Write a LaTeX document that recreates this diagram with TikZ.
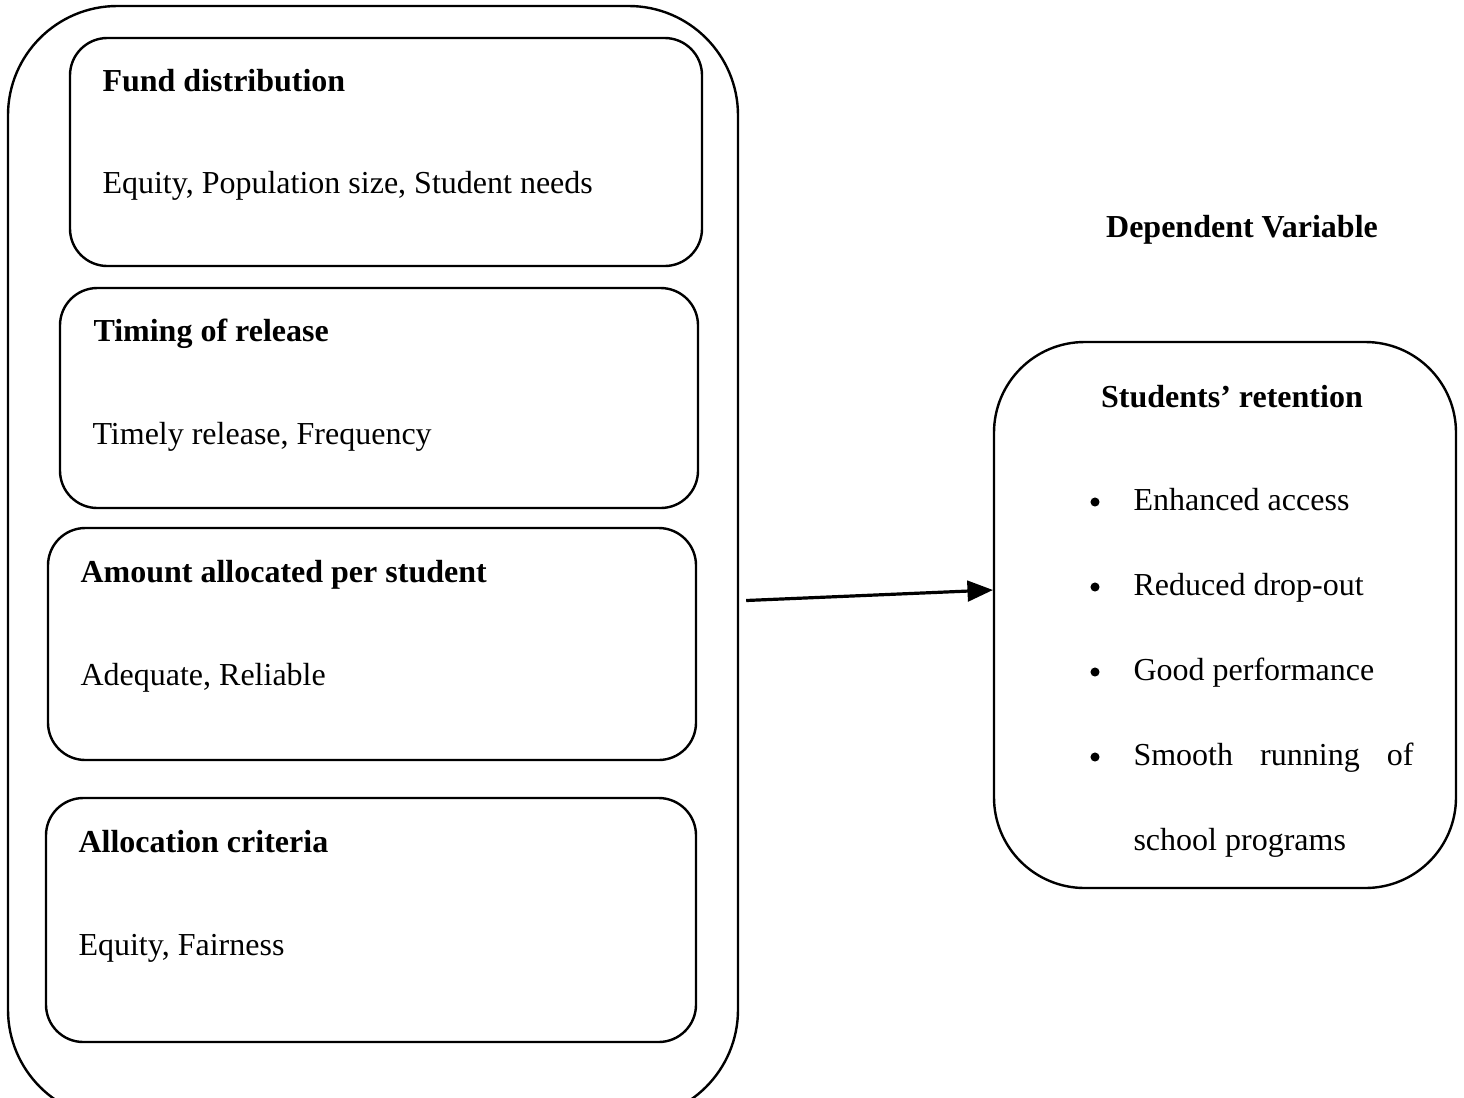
\documentclass[tikz,border=0pt]{standalone}
\usepackage{fontspec}
\setmainfont{Liberation Serif}
\usetikzlibrary{calc}
\usetikzlibrary{arrows}
\usetikzlibrary{fit}

\tikzset{
  cadre/.style={draw, line width=0.9pt, rounded corners=14pt, inner sep=0pt},
  titre/.style={font=\fontsize{12}{14}\selectfont\bfseries, inner sep=0pt},
  texte/.style={font=\fontsize{12}{14}\selectfont, anchor=base west, inner sep=0pt},
  puce/.style={circle, fill, inner sep=0pt, minimum size=3.4pt},
}

\begin{document}
\begin{tikzpicture}[x=0.375pt, y=-0.375pt]
                            % Cadre de l'image
                            \useasboundingbox (0,0) rectangle (1464,1097);
                            \clip (0,0) rectangle (1464,1097);

                            % Grand cadre (variables independantes)
                            \node[cadre, rounded corners=41pt, fit={(8,6) (738,1119)}] (gauche) {};

                            % Les quatre cadres interieurs
                            \node[cadre, fit={(70,38) (702,266)}] (fonds) {};
                            \node[cadre, fit={(60,288) (698,508)}] (calendrier) {};
                            \node[cadre, fit={(48,528) (696,760)}] (montant) {};
                            \node[cadre, fit={(46,798) (696,1042)}] (criteres) {};

                            % Cadre de droite (variable dependante)
                            \node[cadre, rounded corners=34pt, fit={(994,342) (1456,888)}] (retention) {};

                            % Textes des cadres interieurs
                            \node[titre, anchor=base west] (fondsT) at (102,91) {Fund distribution};
                            \node[texte] (fondsD) at (102,193) {Equity, Population size, Student needs};
                            \node[titre, anchor=base west] (calendrierT) at (93,341) {Timing of release};
                            \node[texte] (calendrierD) at (92,444) {Timely release, Frequency};
                            \node[titre, anchor=base west] (montantT) at (80,582) {Amount allocated per student};
                            \node[texte] (montantD) at (80,685) {Adequate, Reliable};
                            \node[titre, anchor=base west] (criteresT) at (78,852) {Allocation criteria};
                            \node[texte] (criteresD) at (78,955) {Equity, Fairness};

                            % Textes de droite
                            \node[titre, anchor=base] (dependante) at (1242,237) {Dependent Variable};
                            \node[titre, anchor=base] (retentionT) at (1232,407) {Students’ retention};

                            % Liste a puces
                            \node[puce] (p1) at (1095,502) {};
                            \node[texte] (acces) at (1133,510) {Enhanced access};
                            \node[puce] (p2) at (1095,587) {};
                            \node[texte] (abandon) at (1133,595) {Reduced drop-out};
                            \node[puce] (p3) at (1095,672) {};
                            \node[texte] (performance) at (1133,680) {Good performance};
                            \node[puce] (p4) at (1095,757) {};
                            \node[texte, text width=105pt] (programmes) at (1133,765) {Smooth\hfill running\hfill of};
                            \node[texte] (programmesB) at (1133,850) {school programs};

                            % Fleche
                            \coordinate (depart) at ($(gauche.east)+(7,38)$);
                            \coordinate (arrivee) at ($(retention.west)+(0,-25)$);
                            \draw[-triangle 45, line width=1.2pt] (depart) -- (arrivee);

                        \end{tikzpicture}
\end{document}
